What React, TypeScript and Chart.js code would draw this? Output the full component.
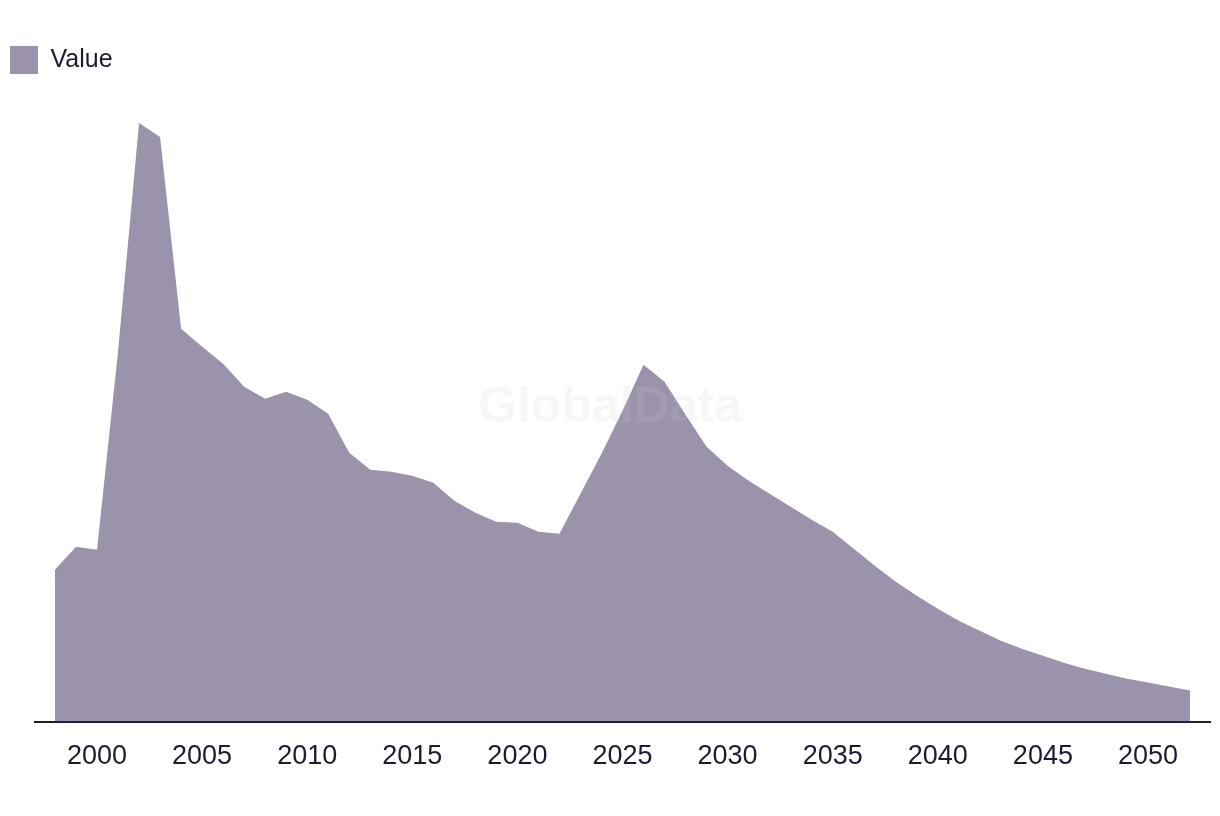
import React, { useEffect, useRef } from "react";
import { Chart, registerables } from "chart.js";

Chart.register(...registerables);

const years = [
  1998, 1999, 2000, 2001, 2002, 2003, 2004, 2005, 2006, 2007, 2008,
  2009, 2010, 2011, 2012, 2013, 2014, 2015, 2016, 2017, 2018, 2019,
  2020, 2021, 2022, 2023, 2024, 2025, 2026, 2027, 2028, 2029, 2030,
  2031, 2032, 2033, 2034, 2035, 2036, 2037, 2038, 2039, 2040, 2041,
  2042, 2043, 2044, 2045, 2046, 2047, 2048, 2049, 2050, 2051, 2052,
];

const values = [
  15.2, 17.5, 17.2, 37.0, 59.9, 58.5, 39.3, 37.5, 35.8, 33.5, 32.3,
  33.0, 32.2, 30.8, 26.9, 25.2, 25.0, 24.6, 23.9, 22.1, 20.9, 20.0,
  19.9, 19.0, 18.8, 22.8, 26.8, 31.1, 35.7, 34.0, 30.7, 27.5, 25.6,
  24.1, 22.8, 21.5, 20.2, 19.0, 17.3, 15.6, 14.0, 12.6, 11.3, 10.1,
  9.1, 8.1, 7.3, 6.6, 5.9, 5.3, 4.8, 4.3, 3.9, 3.5, 3.1,
];

const tickYears = [2000, 2005, 2010, 2015, 2020, 2025, 2030, 2035, 2040, 2045, 2050];

const seriesLabel = "Value";
const watermarkText = "GlobalData";

const FILL = "#9b92ab";
const INK = "#1d1b2f";
const FONT = "'Liberation Sans', Arial, sans-serif";

export default function App() {
  const canvasRef = useRef<HTMLCanvasElement>(null);

  useEffect(() => {
    if (!canvasRef.current) return;
    const watermarkPlugin = {
      id: "watermark",
      afterDatasetsDraw(chart: any) {
        const ctx = chart.ctx;
        ctx.save();
        ctx.font = `bold 50px ${FONT}`;
        ctx.fillStyle = "rgba(205,205,212,0.16)";
        ctx.textAlign = "center";
        ctx.textBaseline = "middle";
        ctx.fillText(watermarkText, chart.width / 2, chart.height / 2);
        ctx.restore();
      },
    };

    const chart = new Chart(canvasRef.current, {
      type: "line",
      data: {
        datasets: [
          {
            label: seriesLabel,
            data: years.map((y, i) => ({ x: y, y: values[i] })),
            fill: "origin",
            backgroundColor: FILL,
            borderColor: FILL,
            borderWidth: 0,
            pointRadius: 0,
            pointHoverRadius: 0,
            tension: 0,
          },
        ],
      },
      options: {
        responsive: false,
        animation: false,
        devicePixelRatio: 1,
        layout: { padding: { left: 0, right: 2, top: 36, bottom: 16 } },
        plugins: {
          legend: {
            position: "top",
            align: "start",
            labels: {
              boxWidth: 28,
              boxHeight: 28,
              padding: 2,
              color: INK,
              font: { size: 25, family: FONT },
            },
          },
          tooltip: { enabled: false },
        },
        scales: {
          x: {
            type: "linear",
            min: 1997.05,
            max: 2052.95,
            afterBuildTicks: (axis: any) => {
              axis.ticks = tickYears.map((v) => ({ value: v }));
            },
            grid: { display: false, drawTicks: false },
            border: { display: true, color: INK, width: 2 },
            ticks: {
              color: INK,
              font: { size: 27, family: FONT },
              padding: 19,
              maxRotation: 0,
              autoSkip: false,
              callback: (v: any) => String(v),
            },
          },
          y: {
            display: true,
            min: 0,
            max: 63.8,
            grid: { display: false, drawTicks: false },
            border: { display: false },
            ticks: { display: false },
            afterFit: (scale: any) => {
              scale.width = 27;
            },
          },
        },
      },
      plugins: [watermarkPlugin],
    });

    return () => chart.destroy();
  }, []);

  return (
    <div style={{ width: 1204, height: 800 }}>
      <canvas ref={canvasRef} width={1204} height={800} style={{ display: "block" }} />
    </div>
  );
}
